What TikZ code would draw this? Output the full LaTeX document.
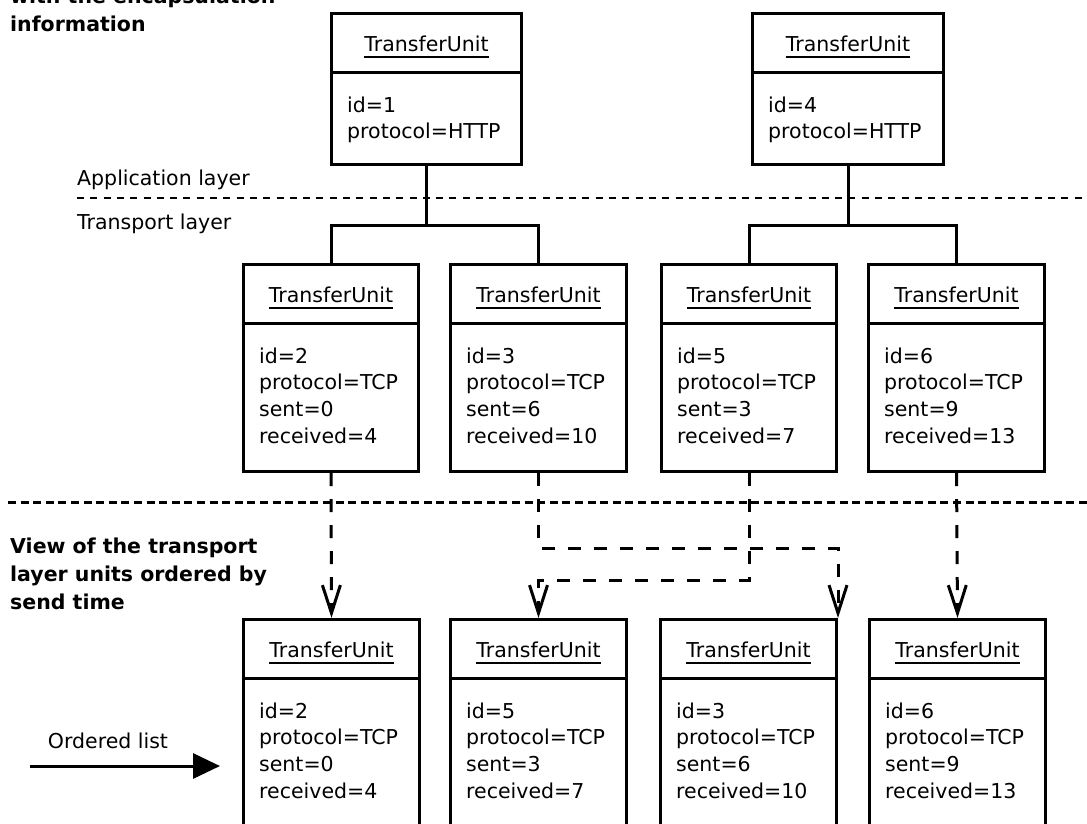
\documentclass[tikz,border=0pt]{standalone}
\usepackage{fontspec}
\setmainfont{DejaVu Sans}
\usetikzlibrary{arrows.meta,calc}

\tikzset{
  txt/.style={inner sep=0pt, font=\fontsize{20.5}{26.8}\selectfont},
  heading/.style={inner sep=0pt, font=\fontsize{20.5}{28}\selectfont\bfseries},
  unitbox/.style={draw, line width=3pt, anchor=north west, inner sep=0pt},
  divider/.style={line width=3pt},
  namerule/.style={line width=1.6pt},
  link/.style={line width=3pt},
  flow/.style={line width=3pt, dash pattern=on 13pt off 13pt,
    -{Straight Barb[length=28pt, width=18pt, line width=3pt]}},
  layersep/.style={line width=2pt, dash pattern=on 7pt off 6.3pt},
  viewsep/.style={line width=3pt, dash pattern=on 8pt off 4.6pt},
  pointer/.style={line width=3pt, -{Triangle[length=27pt, width=25pt]}}
}

% #1 name, #2 left x, #3 top y, #4 width, #5 height, #6 attribute lines
\newcommand\tuBox[6]{%
  \node[unitbox, minimum width=#4pt, minimum height=#5pt] (#1) at (#2,#3) {};
  \draw[divider] ($(#1.north west)+(0,60)$) -- ($(#1.north east)+(0,60)$);
  \node[txt, anchor=base] (#1-name) at ($(#1.north)+(0,39)$) {TransferUnit};
  \draw[namerule] ($(#1-name.base west)+(0,6)$) -- ($(#1-name.base east)+(0,6)$);
  \node[txt, anchor=base west] (#1-attr) at ($(#1.north west)+(17,100)$)
    {\begin{tabular}[t]{@{}l@{}}#6\end{tabular}};
}

\begin{document}
\begin{tikzpicture}[x=1pt, y=-1pt]
  \useasboundingbox (0,0) rectangle (1087,823);
  \fill[white] (0,0) rectangle (1087,823);
  \clip (0,0) rectangle (1087,823);

  % captions
  \node[heading, anchor=base west] (title) at (10,3)
    {\begin{tabular}[t]{@{}l@{}}with the encapsulation\\information\end{tabular}};
  \node[heading, anchor=base west] (view) at (10,553)
    {\begin{tabular}[t]{@{}l@{}}View of the transport\\layer units ordered by\\send time\end{tabular}};

  % layer boundary
  \node[txt, anchor=base west] (app) at (77,185.5) {Application layer};
  \node[txt, anchor=base west] (trans) at (77,229) {Transport layer};
  \coordinate (lsA) at (77,198);
  \coordinate (lsB) at (1087,198);
  \draw[layersep] (lsA) -- (lsB);

  % application layer units
  \tuBox{t1}{330}{12}{190}{151}{id=1\\protocol=HTTP}
  \tuBox{t2}{751}{12}{191}{151}{id=4\\protocol=HTTP}

  % transport layer units
  \tuBox{m1}{242}{263}{175}{207}{id=2\\protocol=TCP\\sent=0\\received=4}
  \tuBox{m2}{449}{263}{176}{207}{id=3\\protocol=TCP\\sent=6\\received=10}
  \tuBox{m3}{660}{263}{175}{207}{id=5\\protocol=TCP\\sent=3\\received=7}
  \tuBox{m4}{867}{263}{176}{207}{id=6\\protocol=TCP\\sent=9\\received=13}

  % encapsulation links
  \coordinate (j1) at ($(t1.south)+(0,59)$);
  \coordinate (j2) at ($(t2.south)+(0,59)$);
  \draw[link] (t1.south) -- (j1);
  \draw[link] (m1.north) |- (j1) -| (m2.north);
  \draw[link] (t2.south) -- (j2);
  \draw[link] (m3.north) |- (j2) -| (m4.north);

  % separator between views
  \coordinate (vsA) at (8,502);
  \coordinate (vsB) at (1087,502);
  \draw[viewsep] (vsA) -- (vsB);

  % units ordered by send time
  \tuBox{b1}{242}{618}{176}{240}{id=2\\protocol=TCP\\sent=0\\received=4}
  \tuBox{b2}{449}{618}{176}{240}{id=5\\protocol=TCP\\sent=3\\received=7}
  \tuBox{b3}{659}{618}{176}{240}{id=3\\protocol=TCP\\sent=6\\received=10}
  \tuBox{b4}{868}{618}{176}{240}{id=6\\protocol=TCP\\sent=9\\received=13}

  % reordering
  \draw[flow] (m1.south) -- (b1.north);
  \draw[flow] (m2.south) -- ++(0,75) -| (b3.north east);
  \draw[flow] (m3.south) -- ++(0,107) -| (b2.north);
  \draw[flow] (m4.south) -- (b4.north);

  % ordered list pointer
  \node[txt, anchor=base] (ollabel) at (108,748) {Ordered list};
  \coordinate (olA) at (30,766);
  \coordinate (olB) at (220,766);
  \draw[pointer] (olA) -- (olB);
\end{tikzpicture}
\end{document}
